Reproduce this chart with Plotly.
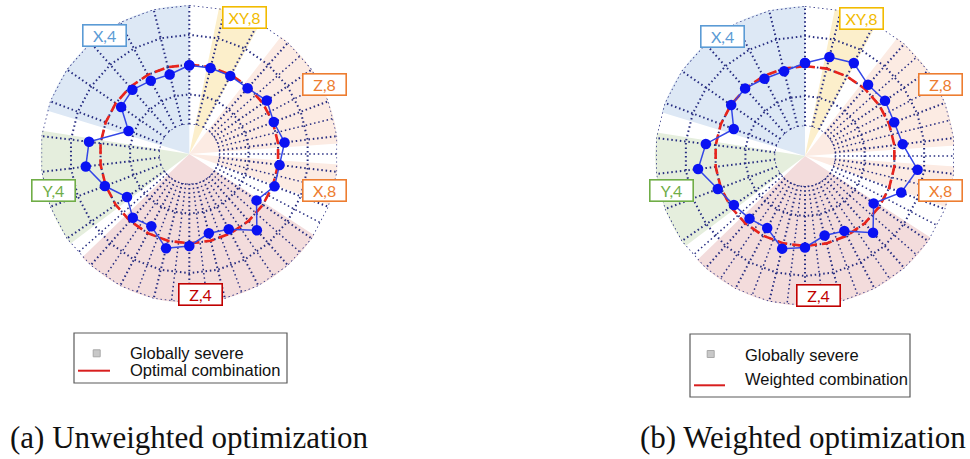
import plotly.graph_objects as go

# 26 radar axes, listed clockwise starting at the top
axes = [str(i) for i in range(1, 27)]

# radius of each point (grid rings are at 1..5)
r_unweighted = [2.98, 2.97, 2.96, 2.95, 3.16, 3.03, 3.22, 3.05, 3.06, 2.74, 3.42, 2.85, 2.74,
                3.09, 3.26, 2.74, 2.86, 2.54, 3.03, 3.50, 3.39, 2.18, 2.78, 2.88, 2.78, 2.75]
r_weighted = [3.10, 3.40, 3.50, 3.17, 3.24, 3.18, 3.28, 3.78, 3.43, 2.78, 3.42, 2.82, 2.73,
              3.05, 3.18, 2.71, 2.79, 2.88, 3.11, 3.59, 3.33, 2.54, 2.99, 3.01, 2.91, 2.91]
combination_r = 3.0
ring_inner = 1
ring_outer = 5

# shaded sectors, bearings in degrees clockwise from the top
sector_names = ["X,4", "XY,8", "Z,8", "X,8", "Z,4", "Y,4"]
sector_start = [287, 11.5, 38, 94, 123, 233]
sector_end = [360, 28.5, 86, 110, 226, 279]

legend_labels = ["Globally severe", "Optimal combination", "Weighted combination"]
captions = ["(a) Unweighted optimization", "(b) Weighted optimization"]

W, H = 970, 459
GRID = "#262c80"
GRID_DASH = "1.5px,2.8px"
GRID_W = 1.5

sector_fill = {"X,4": "#dde8f5", "XY,8": "#fcefcb", "Z,8": "#fcebe3", "X,8": "#fcebe3",
               "Z,4": "#f3dcdc", "Y,4": "#e5eedd"}
label_color = {"X,4": "#5b9bd5", "XY,8": "#f2bb00", "Z,8": "#ed7d31", "X,8": "#ed7d31",
               "Z,4": "#c00000", "Y,4": "#70ad47"}


def px(x):
    return x / W


def py(y):
    return 1 - y / H


def domain(cx, cy, R):
    return dict(x=[px(cx - R), px(cx + R)], y=[py(cy + R), py(cy - R)])


# the finer part of the background web: extra spokes half way between axes,
# from the Z,8 sector round to the end of the Z,4 sector
step = 360 / len(axes)
fine_spokes = [step * (k + 0.5) for k in range(3, 17)]
spoke_r, spoke_t = [], []
for b in fine_spokes:
    spoke_r += [ring_inner * 0.993, ring_outer * 0.993, None]
    spoke_t += [b, b, None]

fig = go.Figure()

charts = [
    dict(cx=189.3, cy=154, R=149, r=r_unweighted, base="polar", top="polar2",
         labels={"X,4": (104.7, 36), "XY,8": (244, 18), "Z,8": (324.7, 85), "X,8": (324.3, 190.5),
                 "Z,4": (200, 294.5), "Y,4": (53, 190.5)}),
    dict(cx=805, cy=156, R=150, r=r_weighted, base="polar3", top="polar4",
         labels={"X,4": (722, 36.3), "XY,8": (861, 18.5), "Z,8": (940.5, 85), "X,8": (940.8, 190.5),
                 "Z,4": (818.3, 295.5), "Y,4": (671, 190.5)}),
]

annotations = []
layout_polars = {}

for ch in charts:
    # coloured sectors on the lower polar layer
    for name, s, e in zip(sector_names, sector_start, sector_end):
        fig.add_trace(go.Barpolar(
            r=[ring_outer], theta=[(s + e) / 2], width=[e - s], base=0,
            marker=dict(color=sector_fill[name], line=dict(width=0)),
            subplot=ch["base"], showlegend=False, hoverinfo="skip"
        ))

    fig.add_trace(go.Scatterpolar(
        r=spoke_r, theta=spoke_t, mode="lines",
        line=dict(color=GRID, width=GRID_W, dash=GRID_DASH),
        subplot=ch["base"], showlegend=False, hoverinfo="skip", connectgaps=False
    ))

    # innermost and outermost grid rings
    for rr in [ring_inner, ring_outer]:
        fig.add_trace(go.Scatterpolar(
            r=[rr] * (len(axes) + 1), theta=axes + [axes[0]],
            mode="lines", line=dict(color=GRID, width=GRID_W, dash=GRID_DASH),
            subplot=ch["top"], showlegend=False, hoverinfo="skip"
        ))

    # combination circle
    fig.add_trace(go.Scatterpolar(
        r=[combination_r] * (len(axes) + 1), theta=axes + [axes[0]],
        mode="lines", line=dict(color="#e8241c", width=2.6, dash="10px,5px"),
        subplot=ch["top"], showlegend=False, hoverinfo="skip"
    ))

    # optimisation result
    fig.add_trace(go.Scatterpolar(
        r=ch["r"] + [ch["r"][0]], theta=axes + [axes[0]],
        mode="lines+markers",
        line=dict(color="#3346e6", width=1.5),
        marker=dict(color="#0a12f2", size=10.5),
        subplot=ch["top"], showlegend=False
    ))

    dom = domain(ch["cx"], ch["cy"], ch["R"])

    layout_polars[ch["base"]] = dict(
        domain=dom, bgcolor="white",
        radialaxis=dict(range=[0, 5], visible=False),
        angularaxis=dict(rotation=90, direction="clockwise", visible=False),
    )

    layout_polars[ch["top"]] = dict(
        domain=dom, bgcolor="rgba(0,0,0,0)", hole=0.2, gridshape="linear",
        radialaxis=dict(range=[1, 5], tickvals=[2, 3, 4], showticklabels=False, ticks="",
                        showline=False, gridcolor=GRID, griddash=GRID_DASH, gridwidth=GRID_W),
        angularaxis=dict(type="category", categoryarray=axes, rotation=90, direction="clockwise",
                         showticklabels=False, ticks="", showline=False,
                         gridcolor=GRID, griddash=GRID_DASH, gridwidth=GRID_W),
    )

    for name, (lx, ly) in ch["labels"].items():
        annotations.append(dict(
            text=name, x=px(lx), y=py(ly), xref="paper", yref="paper",
            xanchor="center", yanchor="middle",
            showarrow=False, width=40, height=18, borderpad=1,
            bgcolor="white", bordercolor=label_color[name], borderwidth=1.6,
            font=dict(family="Lato", size=16, color=label_color[name])
        ))

# legends
shapes = []
legends = [
    dict(box=(74, 333, 287, 383), sq=(96.7, 353.3), line=(78, 110, 370.7), tx=128,
         ty=(353, 370), label=legend_labels[1]),
    dict(box=(690, 334, 910, 397), sq=(710.7, 354), line=(694, 725, 385.3), tx=743,
         ty=(355, 378.5), label=legend_labels[2]),
]
for lg in legends:
    x0, y0, x1, y1 = lg["box"]
    shapes.append(dict(type="rect", xref="paper", yref="paper",
                       x0=px(x0), x1=px(x1), y0=py(y1), y1=py(y0),
                       line=dict(color="#5a5a5a", width=1.2), fillcolor="white"))
    sx, sy = lg["sq"]
    shapes.append(dict(type="rect", xref="paper", yref="paper",
                       x0=px(sx - 3.5), x1=px(sx + 3.5), y0=py(sy + 3.5), y1=py(sy - 3.5),
                       line=dict(color="#a9a9a9", width=1), fillcolor="#c8c8c8"))
    lx0, lx1, ly = lg["line"]
    shapes.append(dict(type="line", xref="paper", yref="paper",
                       x0=px(lx0), x1=px(lx1), y0=py(ly), y1=py(ly),
                       line=dict(color="#d81e1e", width=2)))
    for txt, ty in zip([legend_labels[0], lg["label"]], lg["ty"]):
        annotations.append(dict(
            text=txt, x=px(lg["tx"]), y=py(ty), xref="paper", yref="paper",
            xanchor="left", yanchor="middle", showarrow=False,
            font=dict(family="Liberation Sans", size=16.5, color="#111111")
        ))

# captions
annotations.append(dict(text=captions[0], x=px(8), y=py(437), xref="paper", yref="paper",
                        xanchor="left", yanchor="middle", showarrow=False,
                        font=dict(family="Liberation Serif", size=31, color="#111111")))
annotations.append(dict(text=captions[1], x=px(968), y=py(437), xref="paper", yref="paper",
                        xanchor="right", yanchor="middle", showarrow=False,
                        font=dict(family="Liberation Serif", size=31, color="#111111")))

fig.update_layout(
    width=W, height=H,
    margin=dict(l=0, r=0, t=0, b=0),
    paper_bgcolor="white",
    plot_bgcolor="white",
    showlegend=False,
    annotations=annotations,
    shapes=shapes,
    **layout_polars
)

# drop the browser's default 8px body margin so the figure fills the window exactly
fig.write_html("out.html", config={"displayModeBar": False},
               post_script="document.body.style.margin = '0';")
